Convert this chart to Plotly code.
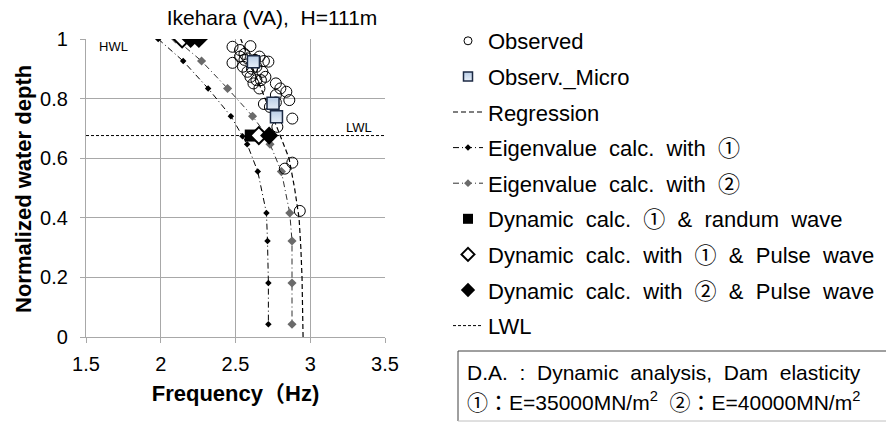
import plotly.graph_objects as go

# ---------------- data ----------------
obs_f = [2.48, 2.53, 2.60, 2.56, 2.48, 2.53, 2.56, 2.55, 2.58, 2.63, 2.66, 2.72, 2.69,
         2.61, 2.58, 2.64, 2.68, 2.60, 2.64, 2.67, 2.70, 2.62, 2.66, 2.77, 2.80, 2.77,
         2.84, 2.86, 2.69, 2.73, 2.77, 2.88, 2.78, 2.83, 2.88, 2.93]
obs_d = [0.974, 0.963, 0.976, 0.950, 0.920, 0.941, 0.930, 0.907, 0.935, 0.930, 0.941, 0.924, 0.926,
         0.900, 0.890, 0.907, 0.890, 0.873, 0.862, 0.862, 0.873, 0.851, 0.834, 0.851, 0.834, 0.812,
         0.823, 0.795, 0.782, 0.772, 0.787, 0.733, 0.705, 0.565, 0.585, 0.423]

micro_f = [2.62, 2.751, 2.774]
micro_d = [0.924, 0.784, 0.739]

reg_d = [0.0, 0.1, 0.2, 0.3, 0.4, 0.5, 0.6, 0.7, 0.8, 0.9, 1.0]
reg_f = [2.952, 2.950, 2.945, 2.937, 2.925, 2.895, 2.858, 2.780, 2.698, 2.617, 2.535]

eig_d = [1.0, 0.926, 0.834, 0.741, 0.674, 0.647, 0.555, 0.416, 0.322, 0.181, 0.043]
eig1_f = [1.983, 2.150, 2.317, 2.469, 2.547, 2.578, 2.649, 2.707, 2.714, 2.720, 2.720]
eig2_f = [2.099, 2.273, 2.447, 2.614, 2.712, 2.731, 2.807, 2.863, 2.878, 2.878, 2.878]

dyn1_rand_f = [2.602]
dyn1_rand_d = [0.676]
dyn1_pulse_f = [2.143, 2.656]
dyn1_pulse_d = [1.0, 0.676]
dyn2_pulse_f = [2.200, 2.255, 2.725]
dyn2_pulse_d = [1.0, 1.0, 0.676]

lwl_f = [1.5, 3.5]
lwl_d = [0.676, 0.676]

x_ticks = [1.5, 2, 2.5, 3, 3.5]
y_ticks = [0, 0.2, 0.4, 0.6, 0.8, 1]

series_names = ["Observed", "Observ._Micro", "Regression", "Eigenvalue calc. with ①",
                "Eigenvalue calc. with ②", "Dynamic calc. ① & randum wave",
                "Dynamic calc. with ① & Pulse wave", "Dynamic calc. with ② & Pulse wave", "LWL"]

FONT = "Liberation Sans, Arial, Noto Sans CJK JP, sans-serif"
W, H = 886, 424
L, R, T, B = 86, 385, 39, 337

def wide(s):
    # Excel-like wide word spacing
    return s.replace(" ", " \u00a0")

# styles: (mode, line, data marker, legend marker)
styles = {
    "Observed": ("markers", None,
                 dict(symbol="circle-open", size=11, color="black", line=dict(width=1)),
                 dict(symbol="circle-open", size=8, color="black", line=dict(width=1))),
    "Observ._Micro": ("markers", None,
                      dict(symbol="square", size=12, color="#b9cde6",
                           gradient=dict(type="vertical", color="#e6eef8"),
                           line=dict(color="#1c2a44", width=1.5)),
                      dict(symbol="square", size=9, color="#b9cde6",
                           gradient=dict(type="vertical", color="#e6eef8"),
                           line=dict(color="#1c2a44", width=1.5))),
    "Regression": ("lines", dict(color="black", width=1.2, dash="5px,3px"), None, None),
    "Eigenvalue calc. with ①": ("lines+markers",
                                dict(color="black", width=1, dash="6px,3px,1px,3px"),
                                dict(symbol="diamond", size=5, color="black"),
                                dict(symbol="diamond", size=5, color="black")),
    "Eigenvalue calc. with ②": ("lines+markers",
                                dict(color="#303030", width=1, dash="6px,3px,1px,3px"),
                                dict(symbol="diamond", size=7, color="#6a6a6a"),
                                dict(symbol="diamond", size=6, color="#6a6a6a")),
    "Dynamic calc. ① & randum wave": ("markers", None,
                                      dict(symbol="square", size=12, color="black"),
                                      dict(symbol="square", size=10, color="black")),
    "Dynamic calc. with ① & Pulse wave": ("markers", None,
                                          dict(symbol="diamond", size=13, color="white",
                                               line=dict(color="black", width=2)),
                                          dict(symbol="diamond", size=10, color="white",
                                               line=dict(color="black", width=2))),
    "Dynamic calc. with ② & Pulse wave": ("markers", None,
                                          dict(symbol="diamond", size=14, color="black"),
                                          dict(symbol="diamond", size=11, color="black")),
    "LWL": ("lines", dict(color="black", width=1, dash="3px,2px"), None, None),
}

data = {
    "Observed": (obs_f, obs_d),
    "Observ._Micro": (micro_f, micro_d),
    "Regression": (reg_f, reg_d),
    "Eigenvalue calc. with ①": (eig1_f, eig_d),
    "Eigenvalue calc. with ②": (eig2_f, eig_d),
    "Dynamic calc. ① & randum wave": (dyn1_rand_f, dyn1_rand_d),
    "Dynamic calc. with ① & Pulse wave": (dyn1_pulse_f, dyn1_pulse_d),
    "Dynamic calc. with ② & Pulse wave": (dyn2_pulse_f, dyn2_pulse_d),
    "LWL": (lwl_f, lwl_d),
}

draw_order = ["Regression", "Eigenvalue calc. with ①", "Eigenvalue calc. with ②", "Observed",
              "Observ._Micro", "LWL", "Dynamic calc. ① & randum wave",
              "Dynamic calc. with ① & Pulse wave", "Dynamic calc. with ② & Pulse wave"]

fig = go.Figure()
for name in draw_order:
    mode, line, mk, _ = styles[name]
    xs, ys = data[name]
    kw = dict(x=xs, y=ys, mode=mode, name=name, showlegend=False, hoverinfo="x+y+name")
    if line:
        kw["line"] = line
    if mk:
        kw["marker"] = mk
    fig.add_trace(go.Scatter(**kw))

# legend entries (no data)
for i, name in enumerate(series_names):
    mode, line, _, lmk = styles[name]
    kw = dict(x=[None], y=[None], mode=mode, name=wide(name), showlegend=True,
              legendgroup="g%d" % i, legendrank=i + 1)
    if line:
        kw["line"] = line
    if lmk:
        kw["marker"] = lmk
    fig.add_trace(go.Scatter(**kw))

axis_common = dict(showgrid=True, gridcolor="#a8a8a8", gridwidth=1.3,
                   showline=True, linecolor="#a8a8a8", linewidth=1.3,
                   ticks="outside", ticklen=5, tickcolor="#a8a8a8", tickwidth=1.3,
                   tickfont=dict(size=20, color="black", family=FONT),
                   zeroline=False)

fig.update_xaxes(range=[1.5, 3.5], tickvals=x_ticks, ticktext=[f"{v:g}" for v in x_ticks],
                 ticklabelstandoff=4,
                 title=dict(text="<b>Frequency（Hz)</b>", font=dict(size=22, color="black", family=FONT),
                            standoff=11),
                 **axis_common)
fig.update_yaxes(range=[0, 1], tickvals=y_ticks, ticktext=[f"{v:g}" for v in y_ticks],
                 ticklabelstandoff=8, **axis_common)

fig.update_layout(
    width=W, height=H,
    margin=dict(l=L, r=W - R, t=T, b=H - B, pad=0),
    paper_bgcolor="white", plot_bgcolor="white",
    font=dict(family=FONT, color="black"),
    title=dict(text="Ikehara (VA),\u00a0 H=111m", x=272 / W, xanchor="center", xref="container",
               y=1 - 18 / H, yanchor="middle", yref="container",
               font=dict(size=21, color="black", family=FONT)),
    legend=dict(x=448 / W, xref="container", xanchor="left",
                y=1 - 20 / H, yref="container", yanchor="top",
                font=dict(size=22, color="black", family=FONT),
                tracegroupgap=4, bgcolor="rgba(0,0,0,0)", itemwidth=30,
                maxheight=420, traceorder="grouped"),
    showlegend=True,
)

pw = R - L
ph = B - T
def px(xp):
    return (xp - L) / pw
def py(yp):
    return (B - yp) / ph

def note(text, xp, yp, size, xanchor="center", angle=0):
    fig.add_annotation(text=text, x=px(xp), y=py(yp), xref="paper", yref="paper",
                       xanchor=xanchor, yanchor="middle", textangle=angle, showarrow=False,
                       font=dict(size=size, color="black", family=FONT))

note("<b>Normalized water depth</b>", 23, 189, 22, angle=-90)
note("HWL", 113, 46, 13)
note("LWL", 359, 128, 13)

# explanation box
fig.add_shape(type="line", x0=px(458), x1=px(886), y0=py(351), y1=py(351), xref="paper", yref="paper",
              line=dict(color="#404040", width=1))
fig.add_shape(type="line", x0=px(458), x1=px(458), y0=py(351), y1=py(421), xref="paper", yref="paper",
              line=dict(color="#404040", width=1))
fig.add_shape(type="line", x0=px(458), x1=px(886), y0=py(421), y1=py(421), xref="paper", yref="paper",
              line=dict(color="#c0c0c0", width=1))
note(wide("D.A. : Dynamic analysis, Dam elasticity"), 465, 372, 21, xanchor="left")
note("①：E=35000MN/m<sup>2</sup>\u00a0 ②：E=40000MN/m<sup>2</sup>", 465, 401, 21, xanchor="left")

fig.write_html("out.html")
